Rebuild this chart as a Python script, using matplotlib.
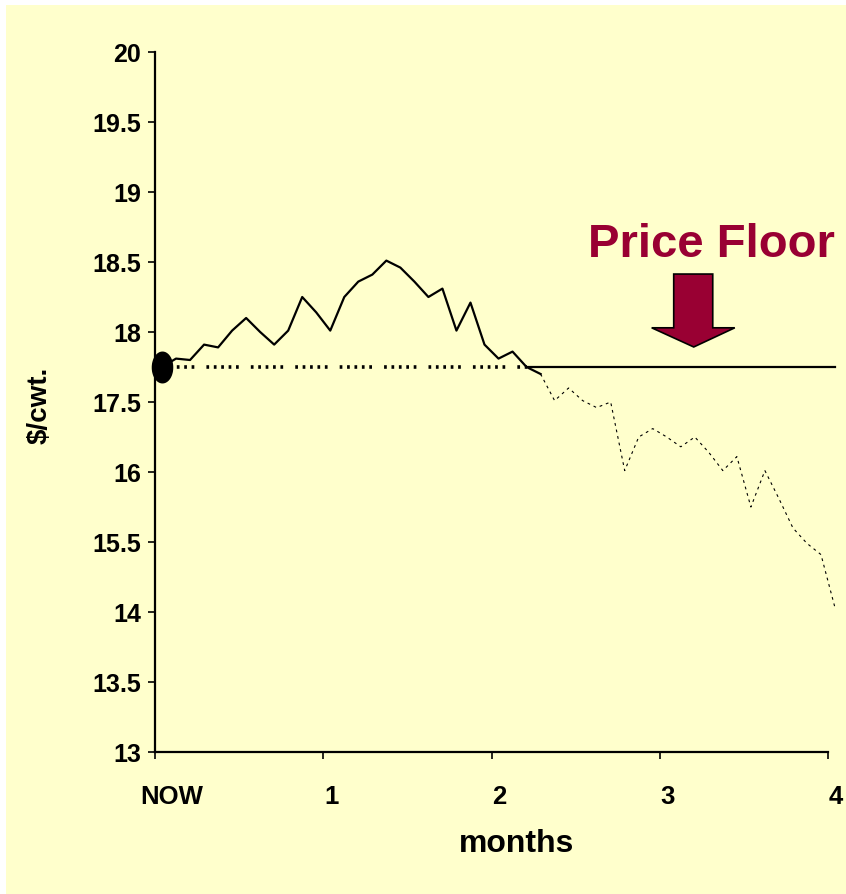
import numpy as np
import matplotlib.pyplot as plt
from matplotlib.patches import Rectangle, Polygon
from matplotlib.path import Path
from matplotlib.transforms import ScaledTranslation

# prices in plot units (upper part of the axis reads directly in $/cwt)
price_known = [17.75, 17.81, 17.80, 17.91, 17.89, 18.01, 18.10, 18.00, 17.91, 18.01,
               18.25, 18.14, 18.01, 18.25, 18.36, 18.41, 18.51, 18.46, 18.36, 18.25,
               18.31, 18.01, 18.21, 17.91, 17.81, 17.86, 17.75, 17.70]
price_future = [17.70, 17.51, 17.60, 17.51, 17.46, 17.50, 17.01, 17.25, 17.31, 17.25,
                17.18, 17.25, 17.14, 17.01, 17.11, 16.75, 17.01, 16.81, 16.60, 16.49,
                16.41, 16.03]
floor_price = 17.75
floor_start = 26  # index where price falls to the floor

y_ticks = np.arange(15.0, 20.01, 0.5)
y_labels = ["13", "13.5", "14", "15.5", "16", "17.5", "18", "18.5", "19", "19.5", "20"]
x_ticks = [0, 1, 2, 3, 4]
x_labels = ["NOW", "1", "2", "3", "4"]

n_known = len(price_known)
months_known = (np.arange(n_known) + 0.5) / 12
months_future = (np.arange(n_known - 1, n_known - 1 + len(price_future)) + 0.5) / 12

plt.rcParams['font.family'] = ['Liberation Sans', 'DejaVu Sans']
plt.rcParams['font.weight'] = 'bold'

fig = plt.figure(figsize=(8.46, 8.94), dpi=100)
fig.patch.set_facecolor("#FFFFCC")
# thin white margin at top and left
fig.patches.append(Rectangle((0, 0), 6 / 846, 1, transform=fig.transFigure,
                             facecolor="white", edgecolor="none"))
fig.patches.append(Rectangle((0, 1 - 5 / 894), 1, 5 / 894, transform=fig.transFigure,
                             facecolor="white", edgecolor="none"))

ax = fig.add_axes([155 / 846, 142 / 894, 673 / 846, 700 / 894])
ax.set_facecolor("none")

# floor line: dotted up to where the price meets it, solid after
dot, gap = 0.75, 1.3
ax.plot([months_known[0], months_known[floor_start]], [floor_price, floor_price],
        color="black", lw=2.6, dashes=(dot, gap) * 4 + (dot, gap * 2 + dot),
        dash_capstyle="butt", solid_capstyle="butt")
ax.plot([months_known[floor_start], months_future[-1]], [floor_price, floor_price],
        color="black", lw=1.6, clip_on=False)

ax.plot(months_known, price_known, color="black", lw=1.6, zorder=3)
ax.plot(months_future, price_future, color="black", lw=0.8, dashes=(2.5, 3.5),
        clip_on=False)

# oval marker at NOW
t = np.linspace(0, 2 * np.pi, 60)
oval = Path(np.column_stack([np.cos(t) * 0.66, np.sin(t)]))
ax.plot([months_known[0]], [price_known[0]], marker=oval, markersize=22,
        color="black", clip_on=False, zorder=4)

# price floor annotation
ax.text(3.31, 18.62, "Price Floor", color="#990033", fontsize=34, fontweight="bold",
        ha="center", va="center")
arrow = [(3.083, 18.414), (3.315, 18.414), (3.315, 18.03), (3.446, 18.03),
         (3.202, 17.893), (2.952, 18.03), (3.083, 18.03)]
ax.add_patch(Polygon(arrow, closed=True, facecolor="#990033", edgecolor="black", lw=1.2))

ax.set_xlim(0, 4)
ax.set_ylim(15, 20)
ax.set_yticks(y_ticks)
ax.set_yticklabels(y_labels)
ax.set_xticks(x_ticks)
ax.set_xticklabels(x_labels)
ax.tick_params(axis="y", labelsize=18, length=5, width=1.2, pad=5)
ax.tick_params(axis="x", labelsize=18.5, length=5, width=1.2, pad=19)
shift = ScaledTranslation(8 / 100, 0, fig.dpi_scale_trans)
for i, lab in enumerate(ax.get_xticklabels()):
    lab.set_transform(lab.get_transform() + (ScaledTranslation(17 / 100, 0, fig.dpi_scale_trans)
                                             if i == 0 else shift))
ax.spines["top"].set_visible(False)
ax.spines["right"].set_visible(False)
ax.spines["left"].set_linewidth(1.6)
ax.spines["bottom"].set_linewidth(1.6)

ax.set_xlabel("months", fontsize=23, fontweight="bold", labelpad=16)
ax.xaxis.set_label_coords((517 - 155) / 673, -(844 - 752) / 700)
ax.xaxis.label.set_va("center")
fig.text(40 / 846, 1 - 405 / 894, "$/cwt.", rotation=90, fontsize=20,
         fontweight="bold", ha="center", va="center")

fig.savefig("out.png", dpi=100, facecolor=fig.get_facecolor())
